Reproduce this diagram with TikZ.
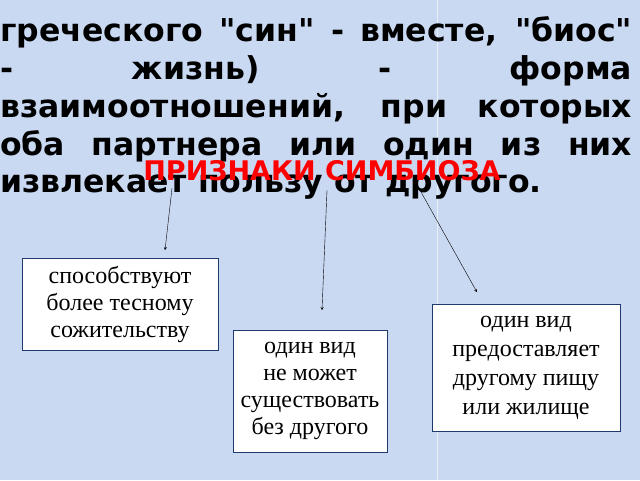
\documentclass[tikz,border=0pt]{standalone}
\usepackage{fontspec}
\setmainfont{Liberation Serif}
\newfontfamily\headfont{DejaVu Sans}
\usetikzlibrary{positioning}
\definecolor{bgblue}{HTML}{C9D9F2}
\definecolor{boxline}{HTML}{1F3A6E}
\tikzset{
    textline/.style={anchor=base west, inner sep=0pt, font=\headfont\bfseries\fontsize{31.5}{33}\selectfont},
    signbox/.style={draw=boxline, thick, fill=white, align=center, inner sep=0pt,
        font=\fontsize{24}{27}\selectfont},
    pointer/.style={->, >=stealth, thin}
}
\begin{document}
\begin{tikzpicture}[x=1pt, y=-1pt]

    \fill[bgblue] (0,0) rectangle (640,480);
    \draw[white, opacity=0.6] (437,0) -- (437,480);
    \useasboundingbox (0,0) rectangle (640,480);

    % text above
    \node[textline] (L1) at (0,41) {\makebox[632pt][s]{греческого "син" - вместе, "биос"}};
    \node[textline] (L2) at (0,79) {\makebox[632pt][s]{- \hfill жизнь) \hfill - \hfill форма}};
    \node[textline] (L3) at (0,117) {\makebox[632pt][s]{взаимоотношений, при которых}};
    \node[textline] (L4) at (0,155) {\makebox[632pt][s]{оба партнера или один из них}};
    \node[textline] (L5) at (0,192) {извлекает пользу от другого.};

    \node[anchor=base, inner sep=0pt, text=red, font=\headfont\bfseries\fontsize{27}{29}\selectfont]
        (title) at (322,180) {ПРИЗНАКИ СИМБИОЗА};

    % boxes
    \node[signbox, minimum width=196pt, minimum height=92pt] (B1) at (120,304)
        {способствуют\\более тесному\\сожительству};
    \node[signbox, minimum width=154pt, minimum height=122pt] (B2) at (310,391)
        {один вид\\не может\\существовать\\без другого};
    \node[signbox, minimum width=188pt, minimum height=127pt, font=\fontsize{24}{29}\selectfont] (B3) at (526,368)
        {один вид\\предоставляет\\другому пищу\\или жилище};

    \coordinate (A1) at (172,188);
    \coordinate (A2) at (327,190);
    \coordinate (A3) at (420,190);
    \draw[pointer] (A1) -- (165,250);
    \draw[pointer] (A2) -- (322,310);
    \draw[pointer] (A3) -- (477,292);

\end{tikzpicture}
\end{document}
